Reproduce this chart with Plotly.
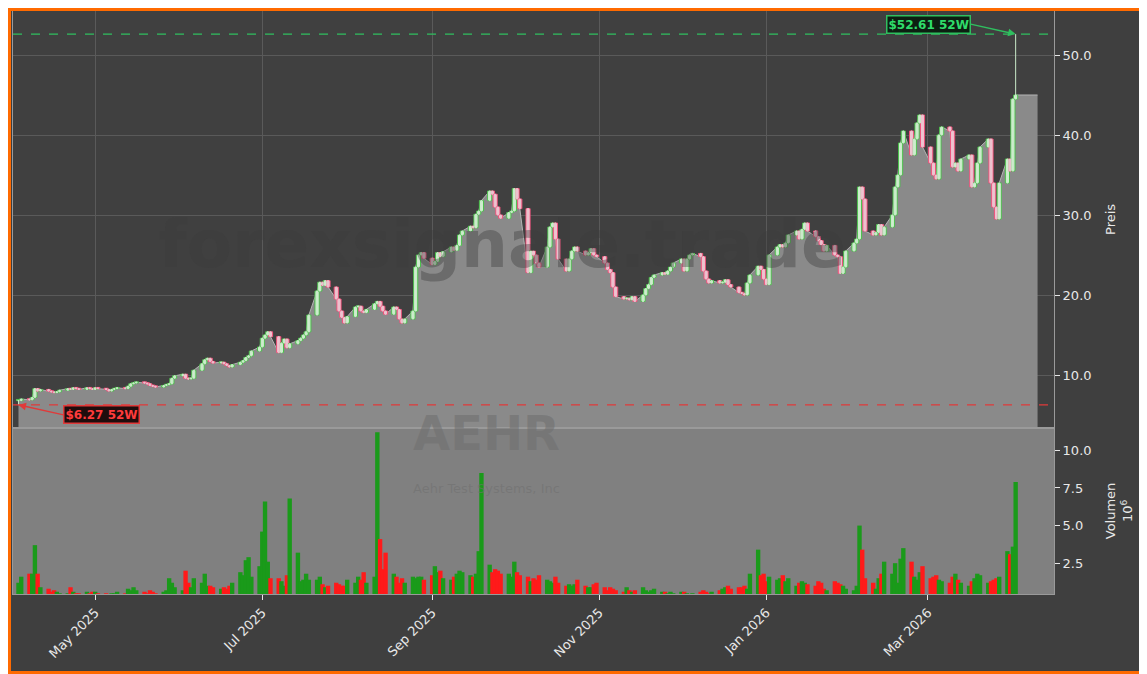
import pandas as pd
import plotly.graph_objects as go

# daily closes (USD), Apr 2025 - Apr 2026
closes = [
    6.8, 7.0, 6.9, 7.2, 8.3, 8.0, 8.2, 8.0, 7.9, 7.8, 7.9, 8.1, 8.3, 8.2, 8.4, 8.3, 8.2, 8.4, 8.3, 8.2,
    8.4, 8.3, 8.2, 8.0, 8.2, 8.3, 8.4, 8.3, 8.6, 8.9, 9.0, 9.1, 9.0, 8.9, 8.7, 8.6, 8.5, 8.7, 8.8, 8.9, 9.6,
    9.9, 10.1, 9.6, 9.5, 9.6, 10.6, 11.4, 11.9, 12.1, 11.7, 11.5, 11.6, 11.4, 11.2, 11.0, 11.3, 11.6, 11.8, 12.2, 12.4, 13.0,
    13.5, 14.6, 15.0, 15.4, 14.8, 12.8, 14.0, 14.5, 13.4, 13.9, 14.3, 14.6, 15.0, 15.4, 17.5, 20.5, 21.6, 21.2, 21.8, 21.0, 19.5, 18.0,
    17.2, 16.5, 17.3, 18.5, 18.6, 18.0, 17.8, 18.2, 18.9, 19.2, 18.6, 18.0, 17.6, 18.5, 18.2, 17.0, 16.5, 17.0, 18.0, 23.5, 25.0,
    25.3, 24.6, 23.8, 24.2, 25.3, 24.8, 25.4, 26.0, 25.6, 26.2, 27.5, 28.0, 28.6, 28.4, 30.1, 30.5, 31.8, 33.0, 32.6, 31.0, 30.0,
    29.6, 30.3, 30.5, 33.3, 32.0, 30.8, 22.8, 25.5, 25.0, 24.0, 23.5, 26.0, 28.5, 29.0, 27.0, 24.5, 23.0, 24.5, 25.5, 26.0, 25.5, 25.0, 25.3,
    25.8, 25.0, 24.8, 24.0, 23.2, 22.8, 21.0, 19.8, 19.5, 19.6, 19.4, 19.8, 19.2, 20.0, 20.8, 21.3, 22.2, 22.5, 22.8, 22.6,
    23.0, 23.5, 24.0, 24.5, 23.0, 24.5, 25.0, 25.2, 24.8, 23.0, 22.0, 21.5, 21.8, 21.5, 21.6, 21.9, 21.3, 21.0, 20.3, 20.2, 20.0, 21.5,
    22.5, 23.6, 23.2, 22.0, 21.3, 25.0, 26.0, 26.3, 26.0, 26.5, 27.5, 28.0, 27.0, 28.2, 29.0, 28.0, 27.3, 26.8, 26.3, 25.5, 26.2,
    25.0, 24.8, 22.7, 23.5, 25.5, 26.5, 27.0, 33.5, 32.0, 28.0, 27.5, 27.8, 28.8, 27.5, 28.5, 30.0, 33.5, 35.0, 39.0,
    40.5, 37.5, 39.5, 41.5, 42.5, 38.5, 36.5, 35.0, 34.5, 40.0, 41.0, 40.5, 36.0, 36.5, 35.5, 37.0, 37.5, 33.5, 34.0, 36.5, 38.5, 39.5,
    34.0, 31.0, 29.5, 34.0, 37.0, 35.5, 44.5, 45.0,
]

# daily volume (millions of shares)
volumes = [
    1.2, 1.6, 1.8, 1.8, 3.7, 1.8, 0.9, 0.8, 0.6, 0.7, 0.6, 0.5, 0.5, 0.9, 0.6, 0.5, 0.5, 0.6, 0.5, 0.6,
    0.6, 0.5, 0.5, 0.4, 0.5, 0.5, 0.6, 0.5, 0.8, 0.7, 0.9, 0.7, 0.6, 0.5, 0.7, 0.6, 0.5, 0.6, 0.7, 1.5, 1.2,
    0.9, 0.7, 2.0, 1.2, 0.9, 1.5, 1.2, 1.8, 1.0, 1.0, 0.9, 0.8, 0.9, 0.8, 1.0, 1.2, 1.9, 1.7, 2.7, 2.9, 1.6,
    2.3, 4.6, 6.6, 2.6, 1.5, 1.5, 1.3, 1.0, 1.7, 6.8, 3.2, 1.3, 1.4, 1.8, 1.4, 1.4, 1.6, 1.1, 0.9, 1.0, 1.2, 1.1,
    1.0, 1.0, 1.4, 1.2, 1.6, 1.4, 1.9, 1.2, 1.6, 11.2, 4.1, 2.1, 3.2, 1.8, 1.6, 1.2, 1.5, 1.2, 1.6, 1.5, 1.6,
    1.6, 1.4, 1.7, 2.3, 1.9, 2.0, 1.5, 1.4, 1.6, 1.8, 2.0, 1.9, 1.7, 1.6, 1.8, 3.3, 8.5, 2.4, 1.9, 2.1, 2.0,
    1.8, 1.8, 1.6, 2.6, 1.9, 1.7, 1.6, 1.3, 1.5, 1.4, 1.7, 1.4, 1.3, 1.2, 1.6, 1.2, 1.0, 1.1, 1.0, 1.1, 1.4, 1.0, 0.9,
    0.9, 1.1, 1.2, 0.9, 0.7, 0.9, 0.8, 0.7, 0.6, 0.9, 0.7, 0.6, 0.7, 0.9, 0.7, 0.6, 0.7, 0.8, 0.6, 0.6,
    0.5, 0.6, 0.5, 0.6, 0.6, 0.5, 0.4, 0.5, 0.6, 0.7, 0.6, 0.5, 0.6, 0.7, 0.8, 0.9, 1.0, 0.8, 0.9, 0.9, 1.0, 0.8,
    1.8, 3.4, 1.7, 1.8, 1.3, 1.6, 1.4, 1.5, 1.7, 1.3, 1.5, 1.0, 1.2, 1.3, 1.2, 1.1, 1.0, 1.3, 1.2, 0.8, 0.7,
    1.3, 1.2, 1.1, 1.0, 0.8, 0.7, 1.0, 5.0, 3.4, 1.5, 1.2, 0.8, 1.5, 1.8, 2.6, 1.8, 2.5, 1.2, 2.8,
    3.5, 2.6, 1.6, 1.4, 1.9, 2.3, 1.5, 1.6, 1.7, 1.4, 1.3, 1.2, 1.6, 1.8, 1.4, 1.2, 1.0, 1.3, 1.5, 1.8, 1.7, 1.2,
    1.3, 1.4, 1.5, 1.6, 3.3, 3.1, 3.6, 7.9,
]

low_52w = 6.27
high_52w = 52.61

dates = pd.bdate_range("2025-04-03", periods=len(closes))
df = pd.DataFrame({"Close": closes, "Volume": volumes}, index=dates)
df["Open"] = df["Close"].shift(1).fillna(df["Close"].iloc[0])
df["High"] = df[["Open", "Close"]].max(axis=1)
df["Low"] = df[["Open", "Close"]].min(axis=1)
df.loc[df.index[-1], "High"] = high_52w
df.loc[df.index[0], "Low"] = low_52w
up = df["Close"] >= df["Open"]
vol_colors = ["#1a9a1a" if u else "#ff1a1a" for u in up]
body_fill = ["#d8f5d8" if u else "#f8c8d6" for u in up]
body_edge = ["#4cc04c" if u else "#f0507a" for u in up]
body_h = (df["Close"] - df["Open"]).abs().clip(lower=0.15)

DAY = 86400000
fig = go.Figure()

# grey area under the close (base price axis), carried a few days past the last bar
area_x = list(df.index) + [df.index[-1] + pd.Timedelta(days=8)]
area_y = list(df["Close"]) + [df["Close"].iloc[-1]]
fig.add_trace(go.Scatter(x=area_x, y=area_y, mode="lines", line=dict(color="#b4b4b4", width=1),
                         fill="tozeroy", fillcolor="#8a8a8a", hoverinfo="skip", yaxis="y"))
# candles on an overlaying axis so they sit above the area: wicks + wide bodies
fig.add_trace(go.Candlestick(x=df.index, open=df["Open"], high=df["High"], low=df["Low"], close=df["Close"],
                             increasing=dict(line=dict(color="#c8e8c8", width=1), fillcolor="#d8f5d8"),
                             decreasing=dict(line=dict(color="#e8c0cc", width=1), fillcolor="#f8c8d6"),
                             yaxis="y3"))
fig.add_trace(go.Bar(x=df.index, y=body_h, base=df[["Open", "Close"]].min(axis=1), width=DAY * 1.5,
                     marker=dict(color=body_fill, line=dict(color=body_edge, width=1)),
                     hoverinfo="skip", yaxis="y3"))
fig.add_trace(go.Bar(x=df.index, y=df["Volume"], marker=dict(color=vol_colors, line=dict(width=0)),
                     width=DAY * 1.6, xaxis="x2", yaxis="y2"))

fig.add_hline(y=high_52w, line=dict(color="#2fbf5f", dash="dash", width=1.3), yref="y3")
fig.add_hline(y=low_52w, line=dict(color="#e03a3a", dash="dash", width=1.3), yref="y3")

fig.add_annotation(x=df.index[-1], y=high_52w, xref="x", yref="y3", ax=-45, ay=-10,
                   text="<b>$52.61 52W</b>", font=dict(color="#2fdc6a", size=12), bgcolor="#0d1f12",
                   bordercolor="#2fbf5f", borderwidth=1.5, arrowhead=2, arrowcolor="#2fbf5f",
                   arrowwidth=1.5, xanchor="right")
fig.add_annotation(x=df.index[0], y=low_52w, xref="x", yref="y3", ax=45, ay=10,
                   text="<b>$6.27 52W</b>", font=dict(color="#ff3b3b", size=12), bgcolor="#1f0d0d",
                   bordercolor="#e03a3a", borderwidth=1.5, arrowhead=2, arrowcolor="#e03a3a",
                   arrowwidth=1.5, xanchor="left")

# watermarks
fig.add_annotation(xref="paper", yref="paper", x=0.47, y=0.6, text="<b>forexsignale.trade</b>",
                   showarrow=False, font=dict(size=66, color="rgba(60,60,60,0.4)"))
fig.add_annotation(xref="paper", yref="paper", x=0.455, y=0.225, text="<b>AEHR</b>",
                   showarrow=False, font=dict(size=48, color="rgba(112,112,112,0.6)"))
fig.add_annotation(xref="paper", yref="paper", x=0.455, y=0.165, text="Aehr Test Systems, Inc",
                   showarrow=False, font=dict(size=13, color="rgba(112,112,112,0.6)"))

fig.add_shape(type="rect", xref="paper", yref="paper", x0=0, x1=1, y0=0.0, y1=0.285, layer="below",
              fillcolor="#808080", line=dict(width=0))
# orange frame around the whole figure
pw, ph = 1139 - 5 - 93, 666 - 3 - 80
fig.add_shape(type="rect", xref="paper", yref="paper", x0=-3.5 / pw, x1=1 + 91.5 / pw,
              y0=-78.5 / ph, y1=1 + 1.5 / ph, line=dict(color="#ff6a00", width=3))

axis_font = dict(color="#e8e8e8", size=13)
xr = ["2025-04-01", "2026-04-16"]
fig.update_layout(
    width=1139, height=666, paper_bgcolor="#3f3f3f", plot_bgcolor="#404040",
    margin=dict(l=5, r=93, t=3, b=80), font=dict(family="DejaVu Sans"), showlegend=False,
    barmode="overlay",
    xaxis=dict(domain=[0, 1], range=xr, anchor="y", showticklabels=False, showgrid=True,
               gridcolor="#5a5a5a", dtick="M2", tick0="2025-05-01", linecolor="#9a9a9a", mirror=True,
               rangeslider=dict(visible=False)),
    xaxis2=dict(domain=[0, 1], range=xr, anchor="y2", matches="x", tickformat="%b %Y", dtick="M2",
                tick0="2025-05-01", tickangle=-45, ticks="outside", tickcolor="#e8e8e8",
                tickfont=axis_font, showgrid=False, linecolor="#9a9a9a", mirror=True),
    yaxis=dict(domain=[0.285, 1], range=[3.4, 55.5], side="right", dtick=10, tickformat=".1f",
               gridcolor="#5a5a5a", zeroline=False, ticks="outside", tickcolor="#e8e8e8",
               tickfont=axis_font, linecolor="#9a9a9a", mirror=True,
               title=dict(text="Preis", font=dict(color="#e8e8e8", size=13))),
    yaxis3=dict(overlaying="y", matches="y", side="right", showticklabels=False, showgrid=False,
                zeroline=False),
    yaxis2=dict(domain=[0, 0.285], range=[0.45, 11.5], side="right", tickvals=[2.5, 5, 7.5, 10],
                ticktext=["2.5", "5.0", "7.5", "10.0"], showgrid=False, zeroline=False, ticks="outside",
                tickcolor="#e8e8e8", tickfont=axis_font, linecolor="#9a9a9a", mirror=True,
                title=dict(text="Volumen<br>10<sup>6</sup>", font=dict(color="#e8e8e8", size=13))),
)
fig.write_html("out.html")
